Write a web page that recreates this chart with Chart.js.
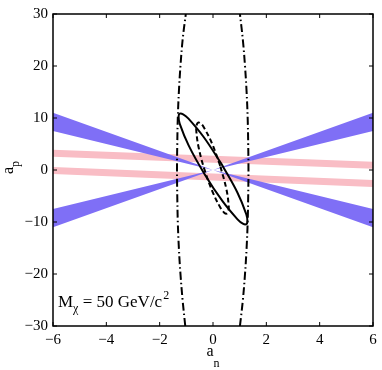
<!DOCTYPE html>
<html>
<head>
<meta charset="utf-8">
<script src="https://cdn.jsdelivr.net/npm/chart.js@4.4.0/dist/chart.umd.min.js"></script>
<style>
  html, body { margin: 0; padding: 0; background: #fff; }
  #wrap { width: 382px; height: 370px; }
</style>
</head>
<body>
<div id="wrap"><canvas id="chart" width="382" height="370"></canvas></div>
<script>
// tick values
const xTicks = [-6, -4, -2, 0, 2, 4, 6];
const yTicks = [-30, -20, -10, 0, 10, 20, 30];

// blue wedges through the origin (edges at a_n = -6 and 6)
const bandX = [-6, 6];
const blueDownInner = [7.5, -7.5];
const blueDownOuter = [11.0, -11.0];
const blueUpInner = [-7.5, 7.5];
const blueUpOuter = [-11.0, 11.0];

// pink bands
const pinkX = [-6, 6];
const pinkUpper = [3.2, 0.9];
const pinkLower = [-0.1, -2.6];

// solid contour
const solidX = [0.32, -0.35, -0.92, -1.12, -1.25, -1.29, -1.25, -0.91, -0.32, 0.35, 0.92, 1.12, 1.25, 1.29, 1.25, 0.91, 0.32];
const solidY = [1.15, 6.34, 9.88, 10.72, 10.83, 10.22, 8.93, 4.69, -0.75, -5.94, -9.48, -10.32, -10.43, -9.82, -8.53, -4.29, 1.15];

// dashed contour
const dashX = [0.27, -0.04, -0.34, -0.46, -0.55, -0.61, -0.63, -0.54, -0.31, 0.0, 0.30, 0.42, 0.51, 0.57, 0.59, 0.50, 0.27];
const dashY = [0.81, 5.13, 8.18, 8.95, 9.13, 8.72, 7.74, 4.37, -0.07, -4.39, -7.44, -8.2, -8.39, -7.98, -7.0, -3.63, 0.81];

// dash-dot contour (two arcs)
const arcY = [-30, -25, -20, -15, -10, -5, 0, 5, 10, 15, 20, 25, 30];
const arcRightX = [1.01, 1.12, 1.20, 1.26, 1.30, 1.32, 1.33, 1.32, 1.30, 1.26, 1.20, 1.12, 1.01];
const arcLeftX = [-1.04, -1.14, -1.22, -1.28, -1.32, -1.34, -1.35, -1.34, -1.32, -1.28, -1.22, -1.14, -1.02];

const BLUE = '#7f6ff6';
const PINK = '#f9bdc5';
const SERIF = '"Liberation Serif", "Times New Roman", serif';

const pts = (xs, ys) => xs.map((x, i) => ({ x: x, y: ys[i] }));
const minus = v => String(v).replace('-', '\u2212');

const frame = {
  id: 'frame',
  afterDraw(chart) {
    const { ctx, chartArea: a, scales: { x, y } } = chart;
    ctx.save();
    ctx.strokeStyle = '#000';
    ctx.lineWidth = 1.5;
    ctx.strokeRect(a.left, a.top, a.right - a.left, a.bottom - a.top);
    ctx.lineWidth = 1;
    ctx.beginPath();
    xTicks.forEach(v => {
      const px = x.getPixelForValue(v);
      ctx.moveTo(px, a.bottom); ctx.lineTo(px, a.bottom - 4);
      ctx.moveTo(px, a.top); ctx.lineTo(px, a.top + 4);
    });
    yTicks.forEach(v => {
      const py = y.getPixelForValue(v);
      ctx.moveTo(a.left, py); ctx.lineTo(a.left + 4, py);
      ctx.moveTo(a.right, py); ctx.lineTo(a.right - 4, py);
    });
    ctx.stroke();

    ctx.fillStyle = '#000';
    ctx.textBaseline = 'alphabetic';
    ctx.textAlign = 'left';

    // x title a_n
    ctx.font = '16px ' + SERIF;
    const aw = ctx.measureText('a').width;
    const cx = (a.left + a.right) / 2 - 3;
    ctx.fillText('a', cx - aw / 2, 356);
    ctx.font = '12px ' + SERIF;
    ctx.fillText('n', cx + aw / 2, 367);

    // y title a_p
    ctx.save();
    ctx.translate(13, 174);
    ctx.rotate(-Math.PI / 2);
    ctx.font = '16px ' + SERIF;
    ctx.fillText('a', 0, 0);
    ctx.font = '12px ' + SERIF;
    ctx.fillText('p', aw, 6);
    ctx.restore();

    // mass label
    let tx = a.left + 5;
    const base = 307;
    ctx.font = '17px ' + SERIF;
    ctx.fillText('M', tx, base);
    tx += ctx.measureText('M').width;
    ctx.font = '12px ' + SERIF;
    ctx.fillText('\u03C7', tx, base + 5);
    tx += ctx.measureText('\u03C7').width;
    ctx.font = '17px ' + SERIF;
    ctx.fillText(' = 50 GeV/c', tx, base);
    tx += ctx.measureText(' = 50 GeV/c').width;
    ctx.font = '12px ' + SERIF;
    ctx.fillText('2', tx + 1, base - 8);
    ctx.restore();
  }
};

const lineStyle = { showLine: true, pointRadius: 0, borderColor: '#000', borderWidth: 2, fill: false };

new Chart(document.getElementById('chart'), {
  type: 'scatter',
  data: {
    datasets: [
      { ...lineStyle, data: pts(solidX, solidY), tension: 0.4, order: 0 },
      { ...lineStyle, data: pts(dashX, dashY), tension: 0.4, borderDash: [5, 3], order: 0 },
      { ...lineStyle, data: pts(arcRightX, arcY), tension: 0.4, borderDash: [8, 3, 1.5, 3], order: 0 },
      { ...lineStyle, data: pts(arcLeftX, arcY), tension: 0.4, borderDash: [8, 3, 1.5, 3], order: 0 },
      { showLine: true, pointRadius: 0, borderWidth: 0, data: pts(bandX, blueDownInner), fill: false, order: 1 },
      { showLine: true, pointRadius: 0, borderWidth: 0, data: pts(bandX, blueDownOuter), fill: '-1', backgroundColor: BLUE, order: 1 },
      { showLine: true, pointRadius: 0, borderWidth: 0, data: pts(bandX, blueUpInner), fill: false, order: 1 },
      { showLine: true, pointRadius: 0, borderWidth: 0, data: pts(bandX, blueUpOuter), fill: '-1', backgroundColor: BLUE, order: 1 },
      { showLine: true, pointRadius: 0, borderWidth: 7, borderColor: PINK, borderCapStyle: 'butt', data: pts(pinkX, pinkUpper), order: 2 },
      { showLine: true, pointRadius: 0, borderWidth: 7, borderColor: PINK, borderCapStyle: 'butt', data: pts(pinkX, pinkLower), order: 2 }
    ]
  },
  options: {
    responsive: false,
    animation: false,
    layout: { padding: { top: 6, right: 9, left: 0, bottom: 0 } },
    plugins: { legend: { display: false }, tooltip: { enabled: false } },
    scales: {
      x: {
        type: 'linear', min: -6, max: 6,
        grid: { display: false, drawTicks: false },
        border: { display: false },
        afterBuildTicks: s => { s.ticks = xTicks.map(v => ({ value: v })); },
        afterFit: s => { s.height = 44; },
        ticks: { color: '#000', font: { family: SERIF, size: 15 }, padding: 5, maxRotation: 0, autoSkip: false, callback: minus }
      },
      y: {
        type: 'linear', min: -30, max: 30,
        grid: { display: false, drawTicks: false },
        border: { display: false },
        afterBuildTicks: s => { s.ticks = yTicks.map(v => ({ value: v })); },
        afterFit: s => { s.width = 53; },
        ticks: { color: '#000', font: { family: SERIF, size: 15 }, padding: 5, autoSkip: false, callback: minus }
      }
    }
  },
  plugins: [frame]
});
</script>
</body>
</html>
